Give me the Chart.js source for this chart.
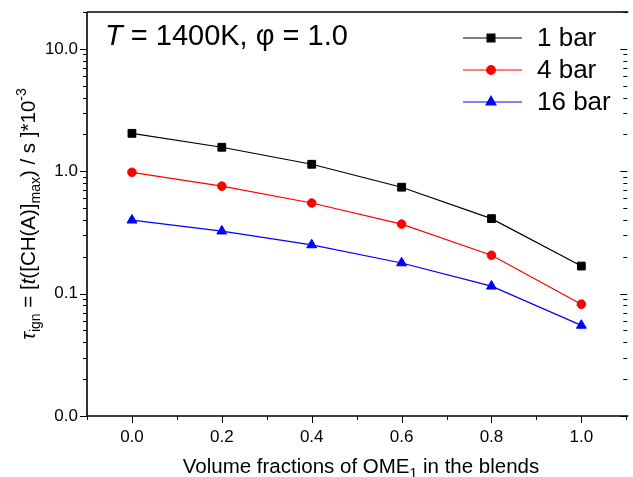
<!DOCTYPE html>
<html>
<head>
<meta charset="utf-8">
<script src="https://cdn.jsdelivr.net/npm/chart.js@4.4.1/dist/chart.umd.min.js"></script>
<style>
  body { margin: 0; background: #fff; }
  canvas { display: block; }
</style>
</head>
<body>
<canvas id="myChart" width="633" height="477"></canvas>
<script>
// data
const fractions = [0, 0.2, 0.4, 0.6, 0.8, 1.0];
const bar1 = [2.04, 1.57, 1.14, 0.74, 0.41, 0.168];
const bar4 = [0.98, 0.755, 0.55, 0.37, 0.206, 0.082];
const bar16 = [0.398, 0.324, 0.25, 0.178, 0.115, 0.055];
const seriesNames = ['1 bar', '4 bar', '16 bar'];
const xTicks = [0, 0.2, 0.4, 0.6, 0.8, 1.0];
const yTicks = [0.01, 0.1, 1, 10];

const FONT = "'Liberation Sans', Arial, sans-serif";

function pts(vals) {
  return fractions.map((x, i) => ({ x: x, y: vals[i] }));
}

// frame, ticks, titles, legend
const decorations = {
  id: 'decorations',
  afterDraw(chart) {
    const ctx = chart.ctx;
    const a = chart.chartArea;
    const x = chart.scales.x, y = chart.scales.y;
    ctx.save();
    ctx.strokeStyle = '#000';
    ctx.lineWidth = 1.6;
    ctx.beginPath();
    ctx.moveTo(a.left, a.top);
    ctx.lineTo(a.left, a.bottom);
    ctx.lineTo(a.right + 2, a.bottom);
    ctx.moveTo(a.left, a.top);
    ctx.lineTo(a.right + 2, a.top);
    ctx.stroke();

    // log ticks on left (outward) and right (inward)
    ctx.lineWidth = 1;
    ctx.beginPath();
    for (let e = -2; e <= 1; e++) {
      for (let m = 1; m <= 9; m++) {
        const v = m * Math.pow(10, e);
        if (v > y.max * 1.0001) break;
        const py = Math.round(y.getPixelForValue(v)) + 0.5;
        const len = m === 1 ? 7 : 4;
        ctx.moveTo(a.left, py); ctx.lineTo(a.left - len, py);
        ctx.moveTo(a.right + 1, py); ctx.lineTo(a.right + 1 - len, py);
      }
    }
    // bottom ticks
    for (let k = -1; k <= 11; k++) {
      const px = Math.round(x.getPixelForValue(k / 10)) + 0.5;
      const len = (k % 2 === 0) ? 7 : 4;
      ctx.moveTo(px, a.bottom); ctx.lineTo(px, a.bottom + len);
    }
    ctx.stroke();

    ctx.fillStyle = '#000';
    ctx.textBaseline = 'alphabetic';

    // in-plot title: T = 1400K, φ = 1.0
    let tx = 105;
    ctx.font = 'italic 29px ' + FONT;
    ctx.fillText('T', tx, 45);
    tx += ctx.measureText('T').width;
    ctx.font = '29px ' + FONT;
    ctx.fillText(' = 1400K, φ = 1.0', tx, 45);

    // legend
    chart.data.datasets.forEach((ds, i) => {
      const ly = 38 + i * 32;
      ctx.strokeStyle = ds.borderColor;
      ctx.lineWidth = 1.2;
      ctx.beginPath();
      ctx.moveTo(463, ly); ctx.lineTo(522, ly);
      ctx.stroke();
      ctx.fillStyle = ds.borderColor;
      Chart.helpers.drawPoint(ctx, {
        pointStyle: ds.pointStyle, radius: ds.pointRadius, rotation: 0, borderWidth: 1
      }, 491, ly);
      ctx.fillStyle = '#000';
      ctx.font = '26px ' + FONT;
      ctx.textBaseline = 'middle';
      ctx.fillText(seriesNames[i], 537, ly + 1);
    });

    // x title with subscript
    ctx.textBaseline = 'alphabetic';
    const xt = [
      ['Volume fractions of OME', '20.5px', 0],
      ['1', '14px', 5],
      [' in the blends', '20.5px', 0]
    ];
    drawPieces(ctx, xt, 361, 473);

    // y title, rotated
    ctx.save();
    ctx.translate(35, 214);
    ctx.rotate(-Math.PI / 2);
    const yt = [
      ['τ', 'italic 20.5px', 0],
      ['ign', '14px', 5],
      [' = [', '20.5px', 0],
      ['t', 'italic 20.5px', 0],
      ['([CH(A)]', '20.5px', 0],
      ['max', '14px', 5],
      [') / s ]*10', '20.5px', 0],
      ['-3', '14px', -9]
    ];
    drawPieces(ctx, yt, 0, 0);
    ctx.restore();

    ctx.restore();
  }
};

function drawPieces(ctx, pieces, cx, by) {
  let w = 0;
  pieces.forEach(p => { ctx.font = p[1] + ' ' + FONT; w += ctx.measureText(p[0]).width; });
  let px = cx - w / 2;
  pieces.forEach(p => {
    ctx.font = p[1] + ' ' + FONT;
    ctx.fillText(p[0], px, by + p[2]);
    px += ctx.measureText(p[0]).width;
  });
}

function noPad(s) {
  s.paddingTop = 0; s.paddingBottom = 0; s.paddingLeft = 0; s.paddingRight = 0;
}

new Chart(document.getElementById('myChart'), {
  type: 'line',
  data: {
    datasets: [
      { label: seriesNames[0], data: pts(bar1), borderColor: '#000000', backgroundColor: '#000000',
        pointStyle: 'rect', pointRadius: 5.5 },
      { label: seriesNames[1], data: pts(bar4), borderColor: '#ff0000', backgroundColor: '#ff0000',
        pointStyle: 'circle', pointRadius: 4.3 },
      { label: seriesNames[2], data: pts(bar16), borderColor: '#0000ff', backgroundColor: '#0000ff',
        pointStyle: 'triangle', pointRadius: 5.7 }
    ]
  },
  options: {
    responsive: false,
    animation: false,
    devicePixelRatio: 1,
    datasets: { line: { borderWidth: 1.2, pointBorderWidth: 1, tension: 0 } },
    layout: { padding: { top: 12, right: 0, left: 0, bottom: 0 } },
    plugins: { legend: { display: false }, tooltip: { enabled: false } },
    scales: {
      x: {
        type: 'linear',
        min: -0.1,
        max: 1.1,
        afterBuildTicks: (s) => { s.ticks = xTicks.map(v => ({ value: v })); },
        afterFit: (s) => { s.height = 61; noPad(s); },
        grid: { display: false, drawTicks: false },
        border: { display: false },
        ticks: {
          padding: 11,
          color: '#000',
          font: { family: FONT, size: 17 },
          callback: (v) => Number(v).toFixed(1)
        }
      },
      y: {
        type: 'logarithmic',
        min: 0.01,
        max: 20,
        afterBuildTicks: (s) => { s.ticks = yTicks.map(v => ({ value: v })); },
        afterFit: (s) => { s.width = 87; noPad(s); },
        grid: { display: false, drawTicks: false },
        border: { display: false },
        ticks: {
          padding: 9,
          color: '#000',
          font: { family: FONT, size: 17 },
          callback: (v) => Number(v).toFixed(1)
        }
      }
    }
  },
  plugins: [decorations]
});
</script>
</body>
</html>
